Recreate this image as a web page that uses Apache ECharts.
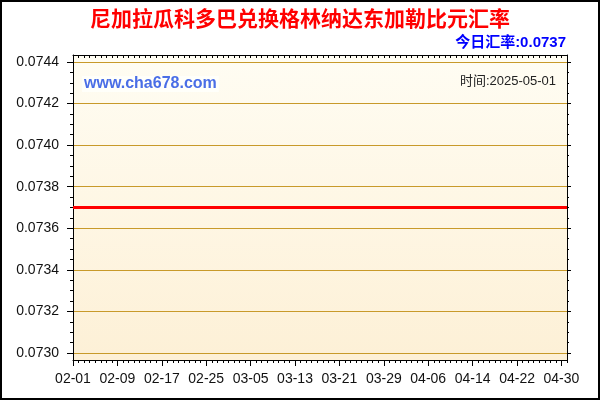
<!DOCTYPE html>
<html>
<head>
<meta charset="utf-8">
<script src="https://cdn.jsdelivr.net/npm/echarts@6/dist/echarts.min.js"></script>
<style>
html, body { margin: 0; padding: 0; background: #fff; }
#main { width: 600px; height: 400px; }
</style>
</head>
<body>
<div id="main"></div>
<script>
const days = [
    '02-01', '02-02', '02-03', '02-04', '02-05', '02-06', '02-07', '02-08', '02-09', '02-10',
    '02-11', '02-12', '02-13', '02-14', '02-15', '02-16', '02-17', '02-18', '02-19', '02-20',
    '02-21', '02-22', '02-23', '02-24', '02-25', '02-26', '02-27', '02-28', '03-01', '03-02',
    '03-03', '03-04', '03-05', '03-06', '03-07', '03-08', '03-09', '03-10', '03-11', '03-12',
    '03-13', '03-14', '03-15', '03-16', '03-17', '03-18', '03-19', '03-20', '03-21', '03-22',
    '03-23', '03-24', '03-25', '03-26', '03-27', '03-28', '03-29', '03-30', '03-31', '04-01',
    '04-02', '04-03', '04-04', '04-05', '04-06', '04-07', '04-08', '04-09', '04-10', '04-11',
    '04-12', '04-13', '04-14', '04-15', '04-16', '04-17', '04-18', '04-19', '04-20', '04-21',
    '04-22', '04-23', '04-24', '04-25', '04-26', '04-27', '04-28', '04-29', '04-30', '05-01'
]

const rates = [
    0.0737, 0.0737, 0.0737, 0.0737, 0.0737, 0.0737, 0.0737, 0.0737, 0.0737, 0.0737,
    0.0737, 0.0737, 0.0737, 0.0737, 0.0737, 0.0737, 0.0737, 0.0737, 0.0737, 0.0737,
    0.0737, 0.0737, 0.0737, 0.0737, 0.0737, 0.0737, 0.0737, 0.0737, 0.0737, 0.0737,
    0.0737, 0.0737, 0.0737, 0.0737, 0.0737, 0.0737, 0.0737, 0.0737, 0.0737, 0.0737,
    0.0737, 0.0737, 0.0737, 0.0737, 0.0737, 0.0737, 0.0737, 0.0737, 0.0737, 0.0737,
    0.0737, 0.0737, 0.0737, 0.0737, 0.0737, 0.0737, 0.0737, 0.0737, 0.0737, 0.0737,
    0.0737, 0.0737, 0.0737, 0.0737, 0.0737, 0.0737, 0.0737, 0.0737, 0.0737, 0.0737,
    0.0737, 0.0737, 0.0737, 0.0737, 0.0737, 0.0737, 0.0737, 0.0737, 0.0737, 0.0737,
    0.0737, 0.0737, 0.0737, 0.0737, 0.0737, 0.0737, 0.0737, 0.0737, 0.0737, 0.0737
]

const yMin = 0.0730
const yMax = 0.0744
const yStep = 0.0002

const chartTitle = '尼加拉瓜科多巴兑换格林纳达东加勒比元汇率'
const siteText = 'www.cha678.com'
const dateText = '时间:2025-05-01'

const numFont = 'Liberation Sans, Arial, sans-serif'
const cjkFont = 'Liberation Sans, Noto Sans CJK SC, sans-serif'
const gold = '#c89a2a'

const chartDom = document.getElementById('main')
const myChart = echarts.init(chartDom, null, { width: 600, height: 400 })

// hidden value axis for the outer frame grid
const frameY = (pos) => ({
    gridIndex: 1,
    type: 'value',
    position: pos,
    min: 0,
    max: 1,
    axisLine: { show: true, lineStyle: { color: '#000', width: 1 } },
    axisTick: { show: false },
    axisLabel: { show: false },
    splitLine: { show: false }
})

const option = {
    animation: false,
    backgroundColor: '#fff',
    title: [
        {
            text: chartTitle,
            left: 'center',
            top: 10,
            padding: 0,
            textStyle: { color: '#ff0000', fontSize: 21, fontWeight: 'bold', fontFamily: cjkFont }
        },
        {
            text: '今日汇率:' + rates[rates.length - 1].toFixed(4),
            right: 34,
            top: 35,
            padding: 0,
            textStyle: { color: '#0000ff', fontSize: 15, fontWeight: 'bold', fontFamily: cjkFont }
        },
        {
            text: siteText,
            left: 82,
            top: 76,
            padding: [0, 2],
            backgroundColor: '#fffffa',
            textStyle: { color: '#4a6ee6', fontSize: 16, fontWeight: 'bold', fontFamily: numFont }
        },
        {
            text: dateText,
            right: 44,
            top: 75,
            padding: 0,
            textStyle: { color: '#222', fontSize: 13, fontWeight: 'normal', fontFamily: cjkFont }
        }
    ],
    graphic: [
        {
            type: 'rect',
            silent: true,
            z: 100,
            shape: { x: 1, y: 1, width: 598, height: 398 },
            style: { fill: 'none', stroke: '#000', lineWidth: 2 }
        }
    ],
    grid: [
        // data area
        { left: 73, right: 33, top: 62, bottom: 47, outerBoundsMode: 'none' },
        // frame with background
        {
            left: 73, right: 33, top: 55, bottom: 40,
            outerBoundsMode: 'none',
            show: true,
            borderWidth: 0,
            backgroundColor: new echarts.graphic.LinearGradient(0, 0, 0, 1, [
                { offset: 0, color: '#fffdf3' },
                { offset: 1, color: '#fdf0d6' }
            ])
        }
    ],
    xAxis: [
        {
            gridIndex: 0,
            type: 'category',
            data: days,
            boundaryGap: false,
            show: false
        },
        {
            gridIndex: 1,
            type: 'category',
            data: days,
            boundaryGap: false,
            position: 'bottom',
            axisLine: { show: true, onZero: false, lineStyle: { color: '#000', width: 1 } },
            axisTick: { show: true, interval: 7, length: 6, lineStyle: { color: '#000' } },
            axisLabel: {
                interval: 7,
                margin: 12,
                color: '#111',
                fontSize: 14,
                fontFamily: numFont
            },
            splitLine: { show: false }
        },
        {
            // daily small ticks
            gridIndex: 1,
            type: 'category',
            data: days,
            boundaryGap: false,
            position: 'bottom',
            axisLine: { show: false, onZero: false },
            axisTick: { show: true, interval: 0, length: 3, lineStyle: { color: '#000' } },
            axisLabel: { show: false },
            splitLine: { show: false }
        },
        {
            gridIndex: 1,
            type: 'category',
            data: days,
            boundaryGap: false,
            position: 'top',
            axisLine: { show: true, onZero: false, lineStyle: { color: '#000', width: 1 } },
            axisTick: { show: true, inside: true, interval: 0, length: 3, lineStyle: { color: '#000' } },
            axisLabel: { show: false },
            splitLine: { show: false }
        }
    ],
    yAxis: [
        {
            gridIndex: 0,
            type: 'value',
            position: 'left',
            min: yMin,
            max: yMax,
            interval: yStep,
            axisLine: { show: true, lineStyle: { color: '#000', width: 1 } },
            axisTick: { show: true, length: 6, lineStyle: { color: '#000' } },
            minorTick: { show: true, splitNumber: 4, length: 3, lineStyle: { color: '#000' } },
            axisLabel: {
                margin: 14,
                color: '#111',
                fontSize: 14,
                fontFamily: numFont,
                formatter: (v) => v.toFixed(4)
            },
            splitLine: { show: true, lineStyle: { color: gold, width: 1 } }
        },
        {
            gridIndex: 0,
            type: 'value',
            position: 'right',
            min: yMin,
            max: yMax,
            interval: yStep,
            axisLine: { show: true, lineStyle: { color: '#000', width: 1 } },
            axisTick: { show: true, length: 4, lineStyle: { color: '#000' } },
            minorTick: { show: true, splitNumber: 4, length: 2, lineStyle: { color: '#000' } },
            axisLabel: { show: false },
            splitLine: { show: false }
        },
        frameY('left'),
        frameY('right')
    ],
    series: [
        {
            name: '汇率',
            type: 'line',
            xAxisIndex: 0,
            yAxisIndex: 0,
            data: rates,
            symbol: 'none',
            z: 5,
            lineStyle: { color: '#ff0000', width: 3 }
        }
    ]
}

option && myChart.setOption(option)
</script>
</body>
</html>
